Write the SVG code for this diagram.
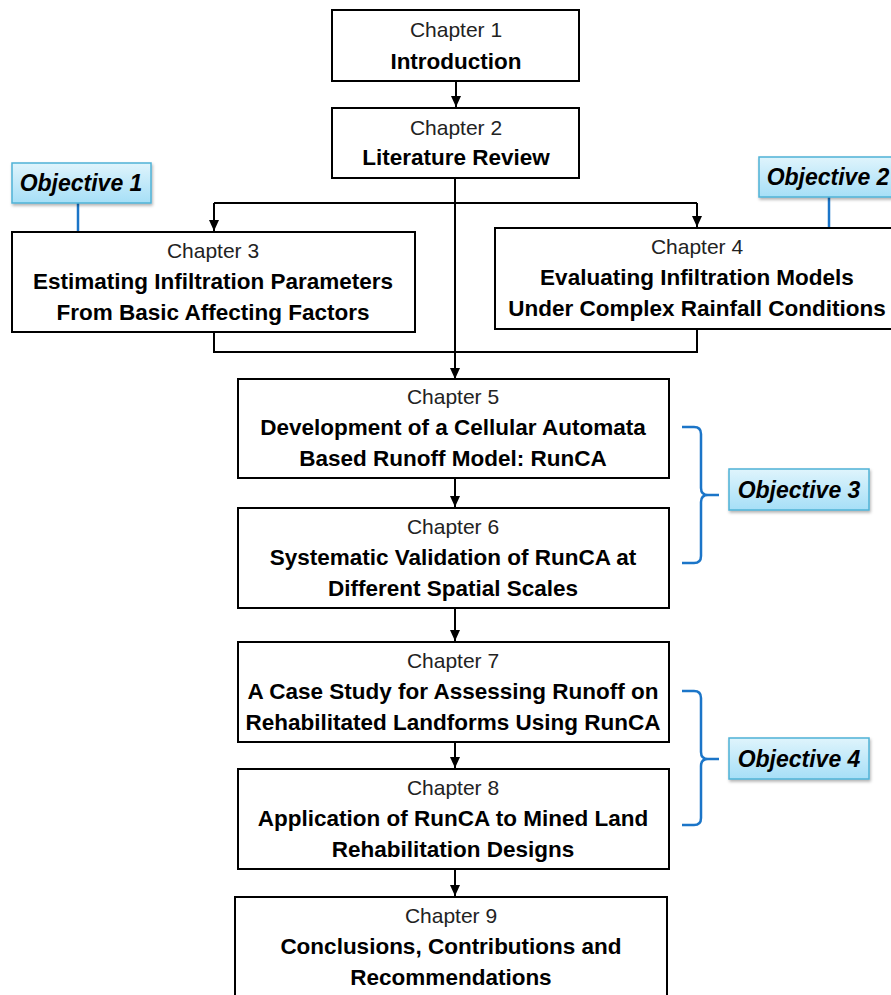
<svg xmlns="http://www.w3.org/2000/svg" width="891" height="995" viewBox="0 0 891 995">
<defs>
<linearGradient id="objg" x1="0" y1="0" x2="0" y2="1">
<stop offset="0" stop-color="#dff4fc"/>
<stop offset="1" stop-color="#a6dff7"/>
</linearGradient>
<filter id="sh" x="-10%" y="-20%" width="130%" height="160%">
<feDropShadow dx="1" dy="2" stdDeviation="1.5" flood-color="#000" flood-opacity="0.3"/>
</filter>
<marker id="ah" markerWidth="12" markerHeight="10" refX="11" refY="5" orient="auto" markerUnits="userSpaceOnUse">
<path d="M0,0 L11,5 L0,10 Z" fill="#000"/>
</marker>
</defs>
<style>
.box{fill:#fff;stroke:#000;stroke-width:2}
.ch{font-family:"Liberation Sans",Arial,sans-serif;font-size:21px;fill:#222;text-anchor:middle}
.tt{font-family:"Liberation Sans",Arial,sans-serif;font-size:22.5px;font-weight:bold;fill:#000;text-anchor:middle}
.conn{fill:none;stroke:#000;stroke-width:2}
.obj{fill:url(#objg);stroke:#4fb3d6;stroke-width:1.5;filter:url(#sh)}
.ot{font-family:"Liberation Sans",Arial,sans-serif;font-size:23px;font-weight:bold;font-style:italic;fill:#000;text-anchor:middle}
.bl{fill:none;stroke:#1b75c8;stroke-width:2.5}
</style>
<rect width="891" height="995" fill="#fff"/>
<g id="connectors">
<path class="conn" d="M456,81 V107" marker-end="url(#ah)"/>
<path class="conn" d="M455,178 V379" marker-end="url(#ah)"/>
<path class="conn" d="M214,203 H697"/>
<path class="conn" d="M214,203 V231" marker-end="url(#ah)"/>
<path class="conn" d="M697,203 V227" marker-end="url(#ah)"/>
<path class="conn" d="M214,332 V352 H697 V329"/>
<path class="conn" d="M455,478 V507" marker-end="url(#ah)"/>
<path class="conn" d="M455,608 V641" marker-end="url(#ah)"/>
<path class="conn" d="M455,742 V768" marker-end="url(#ah)"/>
<path class="conn" d="M455,869 V896" marker-end="url(#ah)"/>
<path class="bl" d="M78,203 V232"/>
<path class="bl" d="M829,197 V228"/>
<path class="bl" d="M682,427 H694 Q701,427 701,434 V488 Q701,495 708,495 H719 M708,495 Q701,495 701,502 V556 Q701,563 694,563 H682"/>
<path class="bl" d="M682,691 H694 Q701,691 701,698 V752 Q701,759 708,759 H719 M708,759 Q701,759 701,766 V818 Q701,825 694,825 H682"/>
</g>
<g id="ch1">
<rect class="box" x="332" y="10" width="247" height="71"/>
<text class="ch" x="456" y="37">Chapter 1</text>
<text class="tt" x="456" y="69">Introduction</text>
</g>
<g id="ch2">
<rect class="box" x="332" y="108" width="247" height="70"/>
<text class="ch" x="456" y="135">Chapter 2</text>
<text class="tt" x="456" y="165">Literature Review</text>
</g>
<g id="ch3">
<rect class="box" x="12" y="232" width="403" height="100"/>
<text class="ch" x="213" y="258">Chapter 3</text>
<text class="tt" x="213" y="289">Estimating Infiltration Parameters</text>
<text class="tt" x="213" y="320">From Basic Affecting Factors</text>
</g>
<g id="ch4">
<rect class="box" x="495" y="228" width="405" height="101"/>
<text class="ch" x="697" y="254">Chapter 4</text>
<text class="tt" x="697" y="285">Evaluating Infiltration Models</text>
<text class="tt" x="697" y="316">Under Complex Rainfall Conditions</text>
</g>
<g id="ch5">
<rect class="box" x="238" y="379" width="431" height="99"/>
<text class="ch" x="453" y="404">Chapter 5</text>
<text class="tt" x="453" y="435">Development of a Cellular Automata</text>
<text class="tt" x="453" y="466">Based Runoff Model: RunCA</text>
</g>
<g id="ch6">
<rect class="box" x="238" y="508" width="431" height="100"/>
<text class="ch" x="453" y="534">Chapter 6</text>
<text class="tt" x="453" y="565">Systematic Validation of RunCA at</text>
<text class="tt" x="453" y="596">Different Spatial Scales</text>
</g>
<g id="ch7">
<rect class="box" x="238" y="642" width="431" height="100"/>
<text class="ch" x="453" y="668">Chapter 7</text>
<text class="tt" x="453" y="699">A Case Study for Assessing Runoff on</text>
<text class="tt" x="453" y="730">Rehabilitated Landforms Using RunCA</text>
</g>
<g id="ch8">
<rect class="box" x="238" y="769" width="431" height="100"/>
<text class="ch" x="453" y="795">Chapter 8</text>
<text class="tt" x="453" y="826">Application of RunCA to Mined Land</text>
<text class="tt" x="453" y="857">Rehabilitation Designs</text>
</g>
<g id="ch9">
<rect class="box" x="235" y="897" width="432" height="110"/>
<text class="ch" x="451" y="923">Chapter 9</text>
<text class="tt" x="451" y="954">Conclusions, Contributions and</text>
<text class="tt" x="451" y="985">Recommendations</text>
</g>
<g id="obj1">
<rect class="obj" x="12" y="163" width="139" height="40"/>
<text class="ot" x="81" y="191">Objective 1</text>
</g>
<g id="obj2">
<rect class="obj" x="759" y="157" width="140" height="40"/>
<text class="ot" x="828" y="185">Objective 2</text>
</g>
<g id="obj3">
<rect class="obj" x="729" y="469" width="140" height="41"/>
<text class="ot" x="799" y="498">Objective 3</text>
</g>
<g id="obj4">
<rect class="obj" x="729" y="738" width="140" height="41"/>
<text class="ot" x="799" y="767">Objective 4</text>
</g>
</svg>
